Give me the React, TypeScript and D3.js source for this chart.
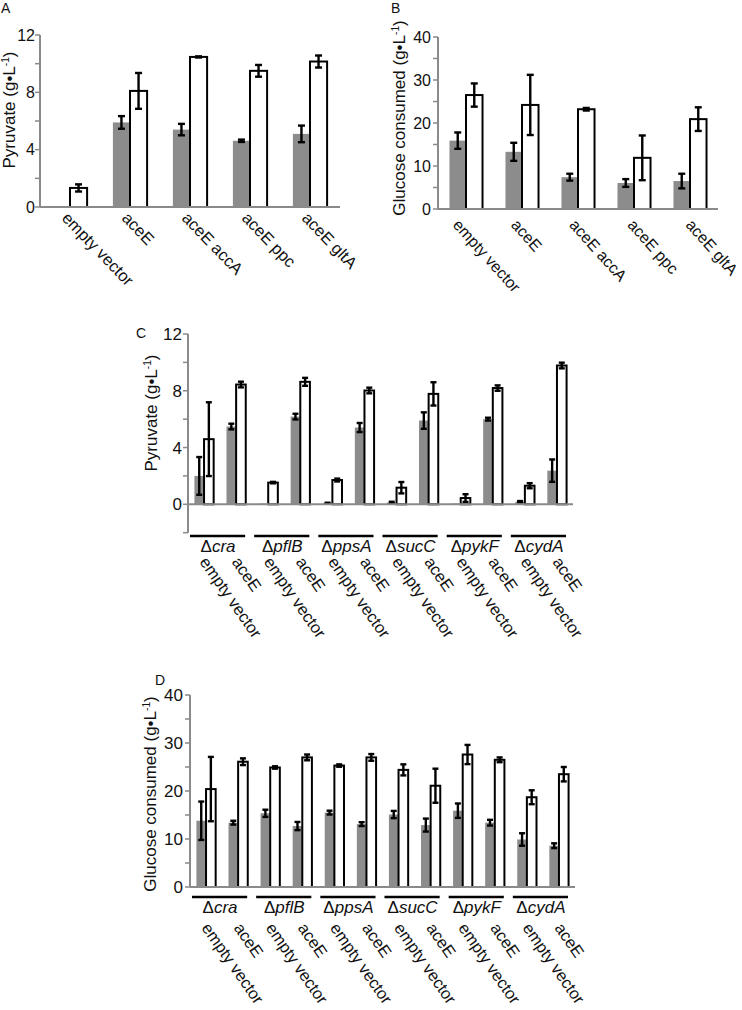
import React from "react";
import * as d3 from "d3";

const FONT = "'Liberation Sans', Arial, Helvetica, sans-serif";
const GRAY = "#8c8c8c";
const AXIS = "#8a8a8a";

// Panel A – pyruvate, plasmid overexpression
const aCategories = ["empty vector", "aceE", "aceE accA", "aceE ppc", "aceE gltA"];
const aGray = [0.05, 5.9, 5.4, 4.62, 5.1];
const aGrayErr = [0, 0.44, 0.4, 0.08, 0.58];
const aWhite = [1.33, 8.1, 10.47, 9.5, 10.15];
const aWhiteErr = [0.25, 1.25, 0.04, 0.41, 0.42];
const aTicks = [0, 2, 4, 6, 8, 10, 12];
const aTickLabels = [0, 4, 8, 12];

// Panel B – glucose consumed
const bCategories = aCategories;
const bGray = [15.9, 13.3, 7.4, 6.05, 6.5];
const bGrayErr = [1.9, 2.1, 0.8, 0.9, 1.7];
const bWhite = [26.5, 24.2, 23.2, 11.9, 20.9];
const bWhiteErr = [2.7, 7.0, 0.3, 5.2, 2.75];
const bTicks = [0, 5, 10, 15, 20, 25, 30, 35, 40];
const bTickLabels = [0, 10, 20, 30, 40];

// Panels C & D – knockout strains
const strains = ["cra", "pflB", "ppsA", "sucC", "pykF", "cydA"];
const conditions = ["empty vector", "aceE"];

const cGray = [2.0, 5.48, 0.05, 6.18, 0.08, 5.41, 0.12, 5.9, 0.05, 6.0, 0.18, 2.37];
const cGrayErr = [1.33, 0.2, 0, 0.2, 0.03, 0.32, 0.06, 0.58, 0, 0.1, 0.05, 0.79];
const cWhite = [4.59, 8.44, 1.53, 8.63, 1.71, 8.02, 1.17, 7.78, 0.44, 8.19, 1.31, 9.78];
const cWhiteErr = [2.6, 0.2, 0.05, 0.28, 0.1, 0.2, 0.4, 0.82, 0.27, 0.19, 0.18, 0.2];
const cTicks = [-2, 0, 2, 4, 6, 8, 10, 12];
const cTickLabels = [0, 4, 8, 12];

const dGray = [13.8, 13.4, 15.35, 12.7, 15.5, 13.1, 15.1, 12.9, 15.9, 13.4, 9.9, 8.6];
const dGrayErr = [4.0, 0.4, 0.75, 0.85, 0.4, 0.4, 0.75, 1.35, 1.5, 0.6, 1.3, 0.5];
const dWhite = [20.4, 26.1, 24.9, 27.0, 25.3, 27.0, 24.4, 21.1, 27.6, 26.5, 18.7, 23.5];
const dWhiteErr = [6.7, 0.7, 0.25, 0.6, 0.25, 0.7, 1.15, 3.55, 2.0, 0.5, 1.45, 1.5];
const dTicks = [0, 5, 10, 15, 20, 25, 30, 35, 40];
const dTickLabels = [0, 10, 20, 30, 40];

type Cfg = {
  keys: string[];
  gray: number[];
  grayErr: number[];
  white: number[];
  whiteErr: number[];
  x0: number;
  x1: number;
  y: d3.ScaleLinear<number, number>;
  axisTop: number;
  axisBottom: number;
  ticks: number[];
  tickLabels: number[];
  tickFont: number;
  labelGap: number;
  barFrac: number;
  cap: number;
};

function Bars(c: Cfg) {
  const xs = d3.scaleBand<string>().domain(c.keys).range([c.x0, c.x1]).padding(0);
  const bw = xs.bandwidth();
  const w = bw * c.barFrac;
  const y = c.y;
  const y0 = y(0);
  const els: any[] = [];
  c.keys.forEach((k, i) => {
    const cx = (xs(k) as number) + bw / 2;
    const gv = c.gray[i];
    const wv = c.white[i];
    els.push(
      <rect key={"g" + i} x={cx - w} y={y(gv)} width={w} height={y0 - y(gv)} fill={GRAY} />
    );
    els.push(
      <rect key={"w" + i} x={cx} y={y(wv)} width={w} height={y0 - y(wv)} fill="#fff" stroke="#000" strokeWidth={2} />
    );
    const errs = [
      [cx - w / 2, gv, c.grayErr[i]],
      [cx + w / 2, wv, c.whiteErr[i]],
    ];
    errs.forEach(([ex, v, e], j) => {
      if (e <= 0) return;
      const t = y(v + e);
      const b = y(v - e);
      els.push(
        <g key={"e" + i + "_" + j} stroke="#000" strokeWidth={2.4}>
          <line x1={ex} x2={ex} y1={t} y2={b} />
          <line x1={ex - c.cap / 2} x2={ex + c.cap / 2} y1={t} y2={t} />
          <line x1={ex - c.cap / 2} x2={ex + c.cap / 2} y1={b} y2={b} />
        </g>
      );
    });
  });
  return (
    <g>
      {els}
      <line x1={c.x0} x2={c.x1} y1={y0} y2={y0} stroke={AXIS} strokeWidth={2} />
      <line x1={c.x0} x2={c.x0} y1={c.axisTop} y2={c.axisBottom} stroke={AXIS} strokeWidth={2} />
      {c.ticks.map((t) => (
        <line key={"t" + t} x1={c.x0 - 5} x2={c.x0} y1={y(t)} y2={y(t)} stroke={AXIS} strokeWidth={1.5} />
      ))}
      {c.tickLabels.map((t) => (
        <text key={"l" + t} x={c.x0 - c.labelGap} y={y(t)} dy="0.36em" textAnchor="end" fontSize={c.tickFont} fill="#111">
          {t}
        </text>
      ))}
    </g>
  );
}

function CatLabels({ keys, labels, x0, x1, y0, dx, rot, font }: any) {
  const xs = d3.scaleBand<string>().domain(keys).range([x0, x1]).padding(0);
  const bw = xs.bandwidth();
  return (
    <g>
      {keys.map((k: string, i: number) => {
        const ax = (xs(k) as number) + bw / 2 + dx;
        return (
          <text key={k} transform={`translate(${ax},${y0}) rotate(${rot})`} fontSize={font} fill="#111">
            {labels[i]}
          </text>
        );
      })}
    </g>
  );
}

function StrainLabels({ x0, x1, lineY, textY, font }: any) {
  const xs = d3.scaleBand<string>().domain(strains).range([x0, x1]).padding(0);
  const bw = xs.bandwidth();
  return (
    <g>
      {strains.map((s) => {
        const sx = xs(s) as number;
        return (
          <g key={s}>
            <line x1={sx + 2} x2={sx + bw - 7} y1={lineY} y2={lineY} stroke="#000" strokeWidth={2.5} />
            <text x={sx + bw / 2 - 2} y={textY} textAnchor="middle" fontSize={font} fill="#111">
              <tspan>Δ</tspan>
              <tspan fontStyle="italic">{s}</tspan>
            </text>
          </g>
        );
      })}
    </g>
  );
}

function YTitle({ x, y, text, font }: any) {
  return (
    <text transform={`translate(${x},${y}) rotate(-90)`} textAnchor="middle" fontSize={font} fill="#111">
      {text} (g•L
      <tspan dy={-6} fontSize={font * 0.6}>-1</tspan>
      <tspan dy={6}>)</tspan>
    </text>
  );
}

export default function App() {
  const yA = d3.scaleLinear().domain([0, 12]).range([207, 35]);
  const yB = d3.scaleLinear().domain([0, 40]).range([209, 37]);
  const yC = d3.scaleLinear().domain([0, 12]).range([504.3, 334]);
  const yD = d3.scaleLinear().domain([0, 40]).range([887, 695]);

  const cdKeys = strains.flatMap((s) => conditions.map((c) => s + "|" + c));
  const cdLabels = strains.flatMap(() => conditions);

  return (
    <svg
      width={742}
      height={1010}
      style={{ position: "absolute", left: 0, top: 0, background: "#fff" }}
      fontFamily={FONT}
    >
      <rect x={0} y={0} width={742} height={1010} fill="#fff" />
      {/* Panel A */}
      <text x={1} y={13} fontSize={14} fill="#111">A</text>
      <YTitle x={15} y={110} text="Pyruvate" font={17} />
      <Bars
        keys={aCategories}
        gray={aGray}
        grayErr={aGrayErr}
        white={aWhite}
        whiteErr={aWhiteErr}
        x0={40}
        x1={340}
        y={yA}
        axisTop={yA(12)}
        axisBottom={yA(0)}
        ticks={aTicks}
        tickLabels={aTickLabels}
        tickFont={16}
        labelGap={5}
        barFrac={0.285}
        cap={7}
      />
      <CatLabels keys={aCategories} labels={aCategories} x0={40} x1={340} y0={219} dx={-9} rot={46} font={16.5} />

      {/* Panel B */}
      <text x={391} y={13} fontSize={14} fill="#111">B</text>
      <YTitle x={405} y={118} text="Glucose consumed" font={17} />
      <Bars
        keys={bCategories}
        gray={bGray}
        grayErr={bGrayErr}
        white={bWhite}
        whiteErr={bWhiteErr}
        x0={438}
        x1={718}
        y={yB}
        axisTop={yB(40)}
        axisBottom={yB(0)}
        ticks={bTicks}
        tickLabels={bTickLabels}
        tickFont={16}
        labelGap={7}
        barFrac={0.295}
        cap={7}
      />
      <CatLabels keys={bCategories} labels={bCategories} x0={423} x1={714} y0={225.5} dx={0} rot={48} font={16} />

      {/* Panel C */}
      <text x={136} y={338} fontSize={14} fill="#111">C</text>
      <YTitle x={157} y={413} text="Pyruvate" font={17} />
      <Bars
        keys={cdKeys}
        gray={cGray}
        grayErr={cGrayErr}
        white={cWhite}
        whiteErr={cWhiteErr}
        x0={188}
        x1={573}
        y={yC}
        axisTop={yC(12)}
        axisBottom={yC(-2)}
        ticks={cTicks}
        tickLabels={cTickLabels}
        tickFont={17}
        labelGap={6}
        barFrac={0.3}
        cap={6}
      />
      <StrainLabels x0={188} x1={573} lineY={536} textY={552} font={17} />
      <CatLabels keys={cdKeys} labels={cdLabels} x0={188} x1={573} y0={562} dx={-5} rot={55} font={16.5} />

      {/* Panel D */}
      <text x={155} y={685} fontSize={14} fill="#111">D</text>
      <YTitle x={156} y={794} text="Glucose consumed" font={17} />
      <Bars
        keys={cdKeys}
        gray={dGray}
        grayErr={dGrayErr}
        white={dWhite}
        whiteErr={dWhiteErr}
        x0={190}
        x1={575}
        y={yD}
        axisTop={yD(40)}
        axisBottom={yD(0)}
        ticks={dTicks}
        tickLabels={dTickLabels}
        tickFont={17}
        labelGap={7}
        barFrac={0.3}
        cap={6}
      />
      <StrainLabels x0={190} x1={575} lineY={897} textY={913} font={17} />
      <CatLabels keys={cdKeys} labels={cdLabels} x0={190} x1={575} y0={928} dx={-5} rot={55} font={16.5} />
    </svg>
  );
}
